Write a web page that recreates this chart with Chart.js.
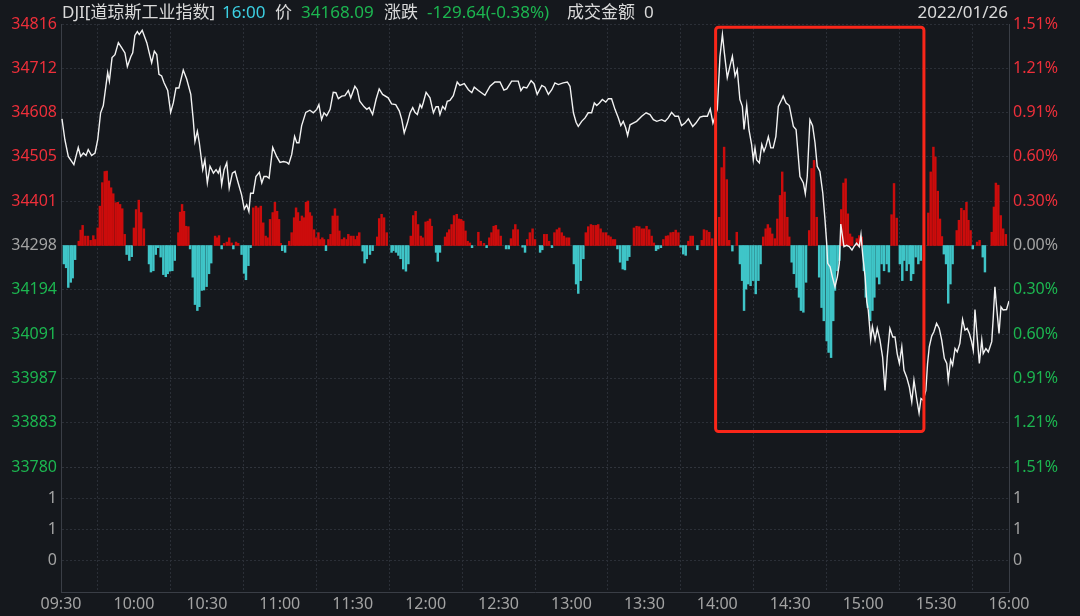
<!DOCTYPE html>
<html>
<head>
<meta charset="utf-8">
<script src="https://cdn.jsdelivr.net/npm/chart.js@4.4.1/dist/chart.umd.min.js"></script>
<style>
html, body { margin: 0; padding: 0; background: #15181d; }
#wrap { position: relative; width: 1080px; height: 616px; }
#head span { position: absolute; top: 0; line-height: 24px; font-size: 17px; white-space: nowrap;
  font-family: "Noto Sans", "Noto Sans CJK SC", sans-serif; color: #dadada; }
#head .green { color: #1cb650; }
#head .cyan { color: #3ccfe2; }
</style>
</head>
<body>
<div id="wrap">
  <canvas id="djiChart" width="1080" height="616"></canvas>
  <div id="head">
    <span style="left:62px">DJI[道琼斯工业指数]</span>
    <span class="cyan" style="left:222px">16:00</span>
    <span style="left:275px">价</span>
    <span class="green" style="left:301px">34168.09</span>
    <span style="left:384px">涨跌</span>
    <span class="green" style="left:427px">-129.64(-0.38%)</span>
    <span style="left:567px">成交金额</span>
    <span style="left:644px">0</span>
    <span style="right:72px">2022/01/26</span>
  </div>
</div>
<script>
// previous close, the 0.00% line
const BASE = 34297.73;

// price axis (left) and percent axis (right)
const priceTickValues = [33779.9, 33883.4, 33987.0, 34090.6, 34194.2, 34297.7, 34401.3, 34504.9, 34608.4, 34712.0, 34815.6];
const priceLabels = ['33780', '33883', '33987', '34091', '34194', '34298', '34401', '34505', '34608', '34712', '34816'];
const pctLabels = ['1.51%', '1.21%', '0.91%', '0.60%', '0.30%', '0.00%', '0.30%', '0.60%', '0.91%', '1.21%', '1.51%'];

// volume panel
const volTickValues = [0, 1, 2];
const volLabels = ['0', '1', '1'];

// time axis, minutes after 09:30
const timeTicks = [0, 30, 60, 90, 120, 150, 180, 210, 240, 270, 300, 330, 360, 390];
const timeLabels = ['09:30', '10:00', '10:30', '11:00', '11:30', '12:00', '12:30', '13:00', '13:30', '14:00', '14:30', '15:00', '15:30', '16:00'];

// price line
const priceTimes = [
  0.4, 1.6, 3.0, 5.3, 7.1, 8.1, 9.2, 10.3, 11.2, 12.6, 14.0, 15.1, 16.3, 17.4, 19.2, 19.9, 21.0, 22.2, 23.6, 25.0,
  26.3, 27.3, 28.7, 29.5, 30.4, 31.4, 32.2, 33.4, 35.3, 36.3, 37.3, 38.4, 39.4, 40.3, 41.4, 42.4, 43.9, 45.1, 46.2, 47.3,
  48.5, 50.3, 51.7, 53.4, 54.4, 55.1, 56.1, 56.9, 58.3, 59.2, 60.2, 61.3, 62.7, 63.8, 64.7, 65.4, 66.1, 67.1, 68.2, 69.2,
  70.5, 71.6, 72.9, 74.3, 75.4, 76.4, 77.3, 78.0, 79.1, 80.2, 81.6, 82.6, 83.5, 84.6, 85.6, 87.1, 88.7, 90.1, 91.5, 92.9,
  93.7, 94.9, 96.1, 97.0, 97.9, 99.0, 100.7, 102.4, 103.8, 105.2, 106.1, 107.2, 108.2, 109.3, 110.7, 112.0, 113.1, 114.1, 115.5, 116.8,
  118.2, 119.2, 120.9, 121.9, 122.9, 124.7, 125.8, 126.8, 128.2, 129.6, 130.9, 132.3, 134.6, 136.0, 137.7, 139.2, 140.2, 141.2, 142.5, 143.6,
  144.7, 145.6, 146.6, 147.7, 148.4, 149.0, 150.2, 151.8, 153.2, 154.3, 155.2, 155.9, 157.0, 158.0, 158.9, 160.0, 161.4, 163.0, 164.1, 165.9,
  167.6, 169.0, 170.0, 171.7, 174.4, 176.5, 178.5, 180.6, 182.2, 183.4, 185.4, 188.1, 189.2, 190.2, 191.6, 193.4, 194.6, 195.9, 197.8, 199.1,
  200.5, 201.9, 203.2, 204.6, 206.6, 208.3, 209.4, 210.8, 211.9, 212.8, 214.2, 215.6, 216.9, 218.3, 219.4, 220.4, 221.5, 222.7, 224.1, 225.2,
  226.5, 227.9, 229.3, 230.3, 231.3, 232.3, 233.1, 234.1, 235.4, 236.8, 238.9, 240.7, 242.3, 243.7, 245.1, 247.1, 248.5, 249.8, 251.2, 252.6,
  254.0, 255.3, 256.7, 258.1, 259.9, 261.2, 262.9, 264.2, 265.9, 267.1, 268.2, 270.0, 271.1, 272.1, 272.9, 274.1, 275.2, 276.2, 277.3, 278.2,
  279.3, 280.3, 281.0, 282.1, 283.0, 284.1, 284.8, 285.5, 286.2, 287.3, 288.3, 289.2, 290.0, 291.0, 292.0, 293.0, 294.1, 295.1, 296.5, 297.1,
  298.3, 299.6, 301.3, 302.4, 304.0, 305.4, 306.2, 307.0, 308.1, 309.2, 310.2, 311.1, 312.2, 313.4, 314.3, 315.0, 315.4, 316.4, 317.3, 318.4,
  319.4, 320.2, 320.8, 322.1, 323.2, 324.3, 325.4, 326.2, 327.3, 328.4, 329.1, 329.8, 330.8, 331.5, 332.1, 333.1, 333.8, 334.9, 335.8, 336.9,
  338.0, 339.0, 339.9, 341.0, 342.2, 343.1, 344.0, 344.9, 345.9, 346.8, 347.9, 349.0, 350.0, 350.9, 352.0, 353.0, 353.8, 354.7, 355.8, 356.5,
  357.2, 358.2, 359.1, 360.2, 361.3, 362.3, 363.4, 364.4, 365.0, 366.0, 366.8, 367.8, 368.7, 369.8, 370.9, 371.9, 372.8, 373.7, 374.6, 375.3,
  376.0, 377.0, 377.8, 378.8, 379.4, 380.5, 381.5, 382.9, 383.5, 384.2, 384.9, 385.9, 386.7, 387.6, 389.0, 390.0
];
const priceValues = [
  34594, 34545, 34506, 34487, 34527, 34506, 34514, 34508, 34522, 34508, 34514, 34545, 34608, 34625, 34702, 34682, 34737, 34744, 34772, 34760,
  34748, 34716, 34739, 34748, 34789, 34798, 34791, 34801, 34772, 34748, 34725, 34752, 34744, 34698, 34694, 34678, 34660, 34609, 34631, 34666,
  34666, 34708, 34687, 34651, 34592, 34541, 34565, 34538, 34475, 34498, 34444, 34483, 34467, 34475, 34467, 34479, 34440, 34475, 34491, 34432,
  34467, 34471, 34444, 34416, 34383, 34393, 34377, 34420, 34420, 34459, 34469, 34444, 34459, 34459, 34455, 34527, 34506, 34492, 34494, 34492,
  34488, 34510, 34553, 34538, 34538, 34578, 34609, 34614, 34608, 34616, 34627, 34592, 34608, 34601, 34616, 34656, 34655, 34641, 34647, 34648,
  34660, 34643, 34670, 34662, 34635, 34622, 34616, 34620, 34604, 34639, 34664, 34651, 34643, 34629, 34627, 34612, 34592, 34561, 34584, 34608,
  34620, 34609, 34604, 34627, 34620, 34631, 34656, 34643, 34608, 34622, 34622, 34604, 34623, 34616, 34635, 34637, 34648, 34680, 34672, 34676,
  34662, 34655, 34668, 34660, 34649, 34670, 34680, 34680, 34661, 34664, 34682, 34682, 34660, 34668, 34666, 34683, 34676, 34651, 34672, 34668,
  34651, 34662, 34678, 34674, 34678, 34680, 34670, 34608, 34586, 34576, 34588, 34596, 34608, 34608, 34631, 34625, 34631, 34639, 34633, 34641,
  34641, 34616, 34596, 34578, 34588, 34573, 34555, 34580, 34584, 34588, 34600, 34608, 34604, 34592, 34588, 34592, 34588, 34596, 34609, 34600,
  34600, 34578, 34584, 34594, 34576, 34584, 34598, 34600, 34600, 34617, 34584, 34616, 34740, 34791, 34748, 34690, 34717, 34740, 34694, 34709,
  34639, 34623, 34569, 34625, 34569, 34534, 34498, 34526, 34498, 34491, 34534, 34518, 34530, 34552, 34526, 34526, 34553, 34623, 34639, 34647,
  34631, 34625, 34576, 34569, 34459, 34444, 34419, 34459, 34592, 34578, 34538, 34483, 34471, 34420, 34358, 34303, 34256, 34248, 34225, 34201,
  34225, 34256, 34348, 34295, 34298, 34295, 34287, 34295, 34303, 34295, 34323, 34276, 34225, 34166, 34147, 34077, 34108, 34077, 34104, 34077,
  34037, 33959, 34037, 34104, 34084, 34084, 34045, 34022, 34061, 34006, 33990, 33967, 33932, 33983, 33940, 33906, 33940, 33936, 33959, 34022,
  34061, 34086, 34096, 34116, 34104, 34077, 34034, 34022, 33983, 34030, 34018, 34057, 34049, 34069, 34125, 34100, 34104, 34092, 34073, 34053,
  34148, 34077, 34022, 34077, 34045, 34057, 34049, 34073, 34127, 34201, 34154, 34092, 34154, 34147, 34148, 34168
];

// red / cyan bars around the 0.00% line (points above or below BASE)
const barTimes = [
  1.2, 2.1, 3.0, 4.0, 4.8, 5.8, 7.3, 8.1, 8.9, 10.0, 11.1, 12.2, 13.3, 14.1, 15.1, 16.0, 17.0, 18.0, 18.8, 19.7,
  20.6, 21.5, 22.5, 23.4, 24.3, 25.2, 26.2, 27.0, 28.1, 29.1, 30.0, 30.9, 32.0, 33.0, 34.1, 36.2, 37.0, 38.0, 39.0, 40.0,
  41.0, 42.1, 43.1, 43.9, 44.8, 45.8, 46.8, 48.3, 49.0, 49.8, 50.6, 51.4, 52.4, 53.1, 54.2, 55.1, 56.1, 56.9, 57.9, 58.8,
  59.9, 60.9, 61.8, 63.4, 64.1, 65.0, 66.1, 67.1, 68.2, 69.2, 70.2, 70.9, 72.0, 72.9, 74.3, 75.3, 76.1, 77.1, 78.0, 79.1,
  80.2, 81.2, 82.2, 83.2, 84.2, 85.0, 86.0, 87.1, 88.0, 88.9, 89.7, 90.4, 91.0, 92.2, 93.9, 94.9, 95.9, 96.7, 97.5, 98.3,
  99.1, 100.0, 100.8, 101.6, 102.4, 103.1, 104.1, 104.9, 105.9, 106.6, 107.5, 108.2, 109.0, 110.0, 110.9, 111.8, 112.7, 113.7, 114.5, 115.5,
  116.5, 117.5, 118.2, 119.2, 120.3, 121.1, 121.9, 122.7, 124.1, 124.9, 125.8, 127.1, 128.2, 130.1, 130.9, 131.9, 132.9, 134.0, 136.0, 136.7,
  137.8, 138.8, 139.7, 140.8, 141.9, 142.9, 143.9, 144.9, 145.9, 146.9, 148.0, 148.8, 150.0, 150.9, 151.8, 152.5, 154.3, 155.0, 155.9, 158.0,
  158.9, 159.7, 160.7, 161.7, 162.8, 163.7, 164.6, 165.5, 166.4, 167.3, 168.2, 169.1, 171.7, 172.7, 174.0, 175.1, 176.2, 177.1, 178.0, 178.9,
  179.9, 180.9, 183.1, 184.2, 185.1, 186.1, 186.9, 187.9, 189.9, 190.9, 191.8, 192.9, 194.0, 195.0, 197.1, 198.0, 198.8, 199.8, 200.8, 202.0,
  203.0, 204.0, 205.0, 206.0, 206.9, 208.0, 209.0, 211.0, 211.9, 212.8, 213.8, 214.9, 215.9, 216.9, 218.0, 219.0, 220.1, 221.0, 222.0, 223.1,
  224.2, 225.2, 226.1, 227.0, 227.9, 228.9, 230.0, 231.1, 232.0, 233.0, 233.8, 235.7, 236.8, 237.9, 238.9, 239.8, 240.9, 242.0, 243.0, 243.9,
  244.8, 245.7, 246.8, 247.8, 248.9, 249.8, 250.8, 251.9, 252.9, 254.0, 254.9, 256.0, 257.0, 258.1, 259.0, 259.9, 261.8, 263.6, 264.5, 265.6,
  266.7, 267.9, 270.8, 271.8, 272.8, 273.9, 274.9, 276.2, 278.0, 279.3, 280.2, 281.0, 281.8, 282.7, 283.7, 284.8, 285.8, 286.9, 287.8, 288.9,
  289.9, 290.8, 291.7, 292.6, 293.7, 294.7, 295.8, 296.7, 297.7, 298.8, 299.6, 300.6, 301.5, 302.6, 303.6, 304.4, 305.4, 306.5, 307.8, 308.8,
  309.8, 310.9, 311.9, 312.9, 313.8, 315.0, 315.8, 316.8, 317.7, 318.4, 319.4, 320.2, 321.0, 321.9, 322.8, 323.7, 324.6, 325.5, 327.4, 328.4,
  329.4, 330.3, 331.1, 331.9, 332.9, 333.8, 334.6, 335.6, 336.6, 337.6, 338.6, 339.7, 340.6, 341.7, 342.7, 343.8, 345.1, 346.1, 346.9, 347.9,
  349.0, 349.7, 350.6, 351.6, 352.7, 353.7, 356.8, 357.8, 358.9, 359.7, 360.7, 361.6, 362.4, 363.2, 364.1, 365.0, 365.9, 366.8, 368.5, 369.4,
  370.4, 371.5, 372.5, 373.3, 374.2, 375.1, 376.9, 377.9, 379.2, 380.1, 382.9, 383.8, 384.6, 385.6, 386.6, 387.6, 388.7
];
const barValues = [
  -43, -52, -98, -86, -76, -33, 10, 36, 47, 22, 22, 12, 23, 14, 41, 92, 147, 173, 174, 151,
  135, 121, 100, 101, 96, 86, 26, -21, -35, -26, 41, 84, 106, 77, 39, -43, -62, -59, -21, -5,
  -27, -68, -73, -66, -60, -59, -35, 30, 78, 96, 80, 45, 44, -8, -74, -138, -152, -143, -105, -104,
  -96, -66, -41, 22, 18, 23, -8, 5, 8, 18, 6, -8, 8, 5, -21, -65, -80, -47, -5, 88,
  92, 88, 92, 53, 22, 18, 61, 77, 101, 80, 61, 5, -12, -16, 10, 30, 65, 88, 77, 57,
  69, 65, 101, 104, 77, 69, 37, 18, 30, 14, 18, 14, -12, 14, 26, 69, 86, 69, 34, 14,
  18, 14, 26, 22, 22, 14, 22, 30, -13, -41, -31, -21, -12, 20, 63, 73, 65, 30, -16, -12,
  -16, -23, -31, -55, -60, -43, 22, 70, 80, 49, 22, 18, 55, 57, 62, 45, -16, -37, -16, 20,
  30, 37, 49, 70, 73, 62, 61, 57, 34, 10, 6, -5, 31, 10, 5, -5, 18, 30, 45, 47,
  37, 22, -8, -8, 16, 37, 49, 37, -4, -16, 14, 30, 39, 14, -16, -10, 26, 26, 10, -5,
  30, 37, 41, 30, 22, 18, 18, -43, -90, -112, -82, -31, 30, 44, 49, 47, 47, 49, 39, 30,
  30, 23, 20, 14, 14, -8, -39, -55, -57, -35, -26, 41, 45, 44, 39, 39, 45, 37, 22, 6,
  -12, -8, -5, 14, 22, 23, 30, 31, 36, 30, -4, -20, -23, 10, 22, 22, -10, 12, 37, 35,
  31, 16, 66, 182, 230, 154, 12, -13, 31, -43, -82, -152, -102, -90, -94, -82, -113, -82, -43, 20,
  39, 49, 41, 27, 16, 62, 117, 172, 125, 66, 20, -39, -66, -98, -121, -152, -156, -86, 35, 180,
  199, 66, -74, -145, -176, -223, -250, -262, -176, -105, -59, -35, 84, 146, 156, 74, 27, 20, 16, 23,
  20, -59, -121, -145, -176, -152, -121, -74, -90, -43, -59, -43, -62, 72, 145, 64, -43, -82, -35, -59,
  -43, -82, -66, -27, -43, -35, 76, 172, 230, 207, 127, 62, 21, -20, -43, -135, -90, -43, 35, 59,
  87, 82, 101, 59, 35, -8, 8, 12, -27, -62, 31, 90, 146, 141, 70, 39, 26
];

// red frame drawn over the afternoon, in axis units
const highlight = { from: 269.3, to: 355.0, high: 34808, low: 33863 };

const FONT = '"Noto Sans", "Noto Sans CJK SC", sans-serif';
const RED = '#ee2f3a';
const GREEN = '#1cb650';
const GREY = '#a3a3a3';
const GRID = '#2b2f37';

function levelColor(value) {
  if (value > BASE + 1) return RED;
  if (value < BASE - 1) return GREEN;
  return GREY;
}

const frameBox = {
  id: 'frameBox',
  afterDatasetsDraw(chart) {
    const { ctx, scales: { x, y } } = chart;
    const left = x.getPixelForValue(highlight.from);
    const right = x.getPixelForValue(highlight.to);
    const top = y.getPixelForValue(highlight.high);
    const bottom = y.getPixelForValue(highlight.low);
    ctx.save();
    ctx.strokeStyle = '#fa2619';
    ctx.lineWidth = 3;
    ctx.beginPath();
    ctx.roundRect(left, top, right - left, bottom - top, 3);
    ctx.stroke();
    ctx.restore();
  }
};

Chart.defaults.font.family = FONT;
Chart.defaults.font.size = 16;

const ctx = document.getElementById('djiChart').getContext('2d');
new Chart(ctx, {
  type: 'bar',
  data: {
    datasets: [
      {
        type: 'line',
        data: priceTimes.map((t, i) => ({ x: t, y: priceValues[i] })),
        borderColor: '#f2f2f2',
        borderWidth: 1.4,
        pointRadius: 0,
        tension: 0,
        yAxisID: 'y',
        order: 1
      },
      {
        type: 'bar',
        data: barTimes.map((t, i) => ({ x: t, y: [BASE, BASE + barValues[i]] })),
        backgroundColor: c => barValues[c.dataIndex] > 0 ? '#cc0c0c' : '#3fc5c8',
        barThickness: 1.8,
        yAxisID: 'y',
        order: 2
      }
    ]
  },
  options: {
    responsive: false,
    animation: false,
    layout: { padding: { top: 24, left: 0, right: 0, bottom: 0 } },
    plugins: { legend: { display: false }, tooltip: { enabled: false } },
    scales: {
      x: {
        type: 'linear',
        min: 0,
        max: 390,
        offset: false,
        afterBuildTicks: s => { s.ticks = timeTicks.map(v => ({ value: v })); },
        afterFit: s => { s.height = 24; },
        ticks: {
          color: GREY,
          padding: 3,
          autoSkip: false,
          maxRotation: 0,
          callback: (v, i) => timeLabels[i]
        },
        grid: { color: GRID, drawTicks: false },
        border: { color: '#3a3e46', dash: [2, 2] }
      },
      yv: {
        position: 'left',
        stack: 'left',
        stackWeight: 125,
        min: -1,
        max: 3,
        afterBuildTicks: s => { s.ticks = volTickValues.map(v => ({ value: v })); },
        afterFit: s => { s.width = 61; },
        ticks: { color: GREY, padding: 4, callback: (v, i) => volLabels[i] },
        grid: { color: GRID, drawTicks: false },
        border: { color: '#3a3e46', dash: [2, 2] }
      },
      y: {
        position: 'left',
        stack: 'left',
        stackWeight: 443,
        min: priceTickValues[0],
        max: priceTickValues[priceTickValues.length - 1],
        afterBuildTicks: s => { s.ticks = priceTickValues.map(v => ({ value: v })); },
        afterFit: s => { s.width = 61; },
        ticks: {
          padding: 4,
          color: c => levelColor(c.tick.value),
          callback: (v, i) => priceLabels[i]
        },
        grid: { color: c => c.index === 0 ? '#30343c' : GRID, drawTicks: false },
        border: { color: '#3a3e46', dash: [2, 2] }
      },
      yr: {
        position: 'right',
        stack: 'right',
        stackWeight: 443,
        min: priceTickValues[0],
        max: priceTickValues[priceTickValues.length - 1],
        afterBuildTicks: s => { s.ticks = priceTickValues.map(v => ({ value: v })); },
        afterFit: s => { s.width = 71; },
        ticks: {
          padding: 4,
          color: c => levelColor(c.tick.value),
          callback: (v, i) => pctLabels[i]
        },
        grid: { drawOnChartArea: false, drawTicks: false },
        border: { color: '#3a3e46' }
      },
      yvr: {
        position: 'right',
        stack: 'right',
        stackWeight: 125,
        min: -1,
        max: 3,
        afterBuildTicks: s => { s.ticks = volTickValues.map(v => ({ value: v })); },
        afterFit: s => { s.width = 71; },
        ticks: { color: GREY, padding: 4, callback: (v, i) => volLabels[i] },
        grid: { drawOnChartArea: false, drawTicks: false },
        border: { color: '#3a3e46' }
      }
    }
  },
  plugins: [frameBox]
});
</script>
</body>
</html>
